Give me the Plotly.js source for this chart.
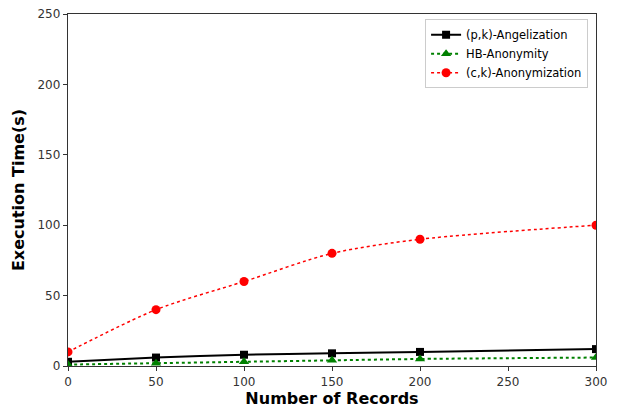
<!DOCTYPE html>
<html><head><meta charset="utf-8">
<script src="https://cdn.plot.ly/plotly-3.0.1.min.js"></script>
<style>html,body{margin:0;padding:0;background:#fff;}#chart{width:618px;height:408px;}</style>
</head><body><div id="chart"></div>
<script>
var records = [0, 50, 100, 150, 200, 300];
var pkAngelization = [3, 6, 8, 9, 10, 12];
var hbAnonymity = [1, 2, 3, 4, 5, 6];
var ckAnonymization = [10, 40, 60, 80, 90, 100];
var xTicks = [0, 50, 100, 150, 200, 250, 300];
var yTicks = [0, 50, 100, 150, 200, 250];

var traces = [
  {x: records, y: pkAngelization, name: '(p,k)-Angelization', mode: 'lines+markers',
   line: {color: '#000000', width: 2, dash: 'solid', shape: 'spline', smoothing: 0.8},
   marker: {symbol: 'square', size: 8, color: '#000000'}},
  {x: records, y: hbAnonymity, name: 'HB-Anonymity', mode: 'lines+markers',
   line: {color: '#008000', width: 2, dash: 'dot', shape: 'spline', smoothing: 0.8},
   marker: {symbol: 'triangle-up', size: 9, color: '#008000'}},
  {x: records, y: ckAnonymization, name: '(c,k)-Anonymization', mode: 'lines+markers',
   line: {color: '#ff0000', width: 1.5, dash: 'dot', shape: 'spline', smoothing: 0.8},
   marker: {symbol: 'circle', size: 9, color: '#ff0000'}}
];

var axisCommon = {
  showgrid: false, zeroline: false, showline: true, mirror: true,
  linecolor: '#333333', linewidth: 1.2, ticks: 'outside', ticklen: 4,
  tickcolor: '#333333', tickfont: {family: 'DejaVu Sans', size: 12, color: '#333333'}
};

var layout = {
  width: 618, height: 408,
  margin: {l: 68, r: 22, t: 14, b: 42},
  paper_bgcolor: '#ffffff', plot_bgcolor: '#ffffff',
  showlegend: true,
  legend: {x: 0.985, y: 0.985, xanchor: 'right', yanchor: 'top',
    bgcolor: '#ffffff', bordercolor: '#cccccc', borderwidth: 1,
    font: {family: 'DejaVu Sans', size: 11.5, color: '#000000'},
    tracegroupgap: 0, itemwidth: 30},
  xaxis: Object.assign({}, axisCommon, {
    range: [0, 300], tickvals: xTicks, ticktext: xTicks.map(String),
    title: {text: '<b>Number of Records</b>', font: {family: 'DejaVu Sans', size: 16, color: '#000000'}, standoff: 4}
  }),
  yaxis: Object.assign({}, axisCommon, {
    range: [0, 250], tickvals: yTicks, ticktext: yTicks.map(String),
    title: {text: '<b>Execution Time(s)</b>', font: {family: 'DejaVu Sans', size: 16, color: '#000000'}, standoff: 8}
  })
};

Plotly.newPlot('chart', traces, layout, {displayModeBar: false, staticPlot: true});
</script></body></html>
